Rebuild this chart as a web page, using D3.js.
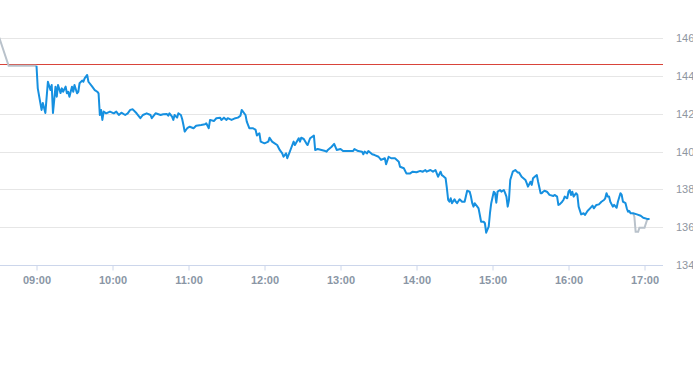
<!DOCTYPE html>
<html>
<head>
<meta charset="utf-8">
<script src="https://cdn.jsdelivr.net/npm/d3@7"></script>
<style>
  body { margin: 0; background: #fff; }
  svg { display: block; font-family: "Liberation Sans", Arial, sans-serif; }
</style>
</head>
<body>
<svg width="693" height="365"></svg>
<script>
// session prices (blue)
var times = ["09:00","09:01","09:04","09:05","09:07","09:09","09:11","09:12","09:13","09:15","09:16","09:17","09:19","09:20","09:21","09:23","09:24","09:25","09:26","09:28","09:29","09:30","09:32","09:33","09:34","09:36","09:37","09:38","09:40","09:41","09:44","09:46","09:48","09:49","09:50","09:51","09:52","09:53","09:55","09:58",
  "10:01","10:03","10:05","10:07","10:10","10:12","10:14","10:16","10:19","10:22","10:24","10:27","10:30","10:31","10:34","10:38","10:40","10:43","10:44","10:45","10:47","10:48","10:49","10:51","10:52","10:54","10:55","10:56","10:57","10:59",
  "11:01","11:04","11:06","11:10","11:13","11:14","11:16","11:17","11:20","11:22","11:25","11:26","11:28","11:30","11:31","11:34","11:37","11:39","11:41","11:42","11:43","11:45","11:46","11:48","11:51","11:53","11:54","11:56","11:57",
  "12:00","12:03","12:04","12:06","12:08","12:10","12:12","12:14","12:15","12:17","12:18","12:20","12:21","12:23","12:24","12:27","12:28","12:29","12:31","12:33","12:34","12:36","12:39","12:40","12:42","12:45","12:48","12:49","12:50","12:53","12:55","12:57",
  "13:00","13:02","13:06","13:10","13:11","13:14","13:17","13:18","13:19","13:21","13:22","13:25","13:27","13:30","13:32","13:35","13:36","13:38","13:40","13:43","13:46","13:47","13:50","13:52","13:55","13:57",
  "14:00","14:03","14:05","14:07","14:08","14:11","14:13","14:15","14:16","14:17","14:19","14:20","14:21","14:23","14:24","14:25","14:26","14:27","14:28","14:30","14:31","14:32","14:34","14:36","14:38","14:40","14:42","14:43","14:44","14:45","14:46","14:48","14:49","14:50","14:51","14:53","14:54","14:55","14:57","14:58","14:59",
  "15:01","15:02","15:03","15:04","15:06","15:07","15:09","15:10","15:11","15:12","15:13","15:14","15:16","15:18","15:20","15:21","15:23","15:26","15:27","15:28","15:30","15:31","15:32","15:34","15:35","15:36","15:38","15:39","15:40","15:41","15:43","15:45","15:48","15:49","15:51","15:52","15:53","15:55","15:56","15:57","15:59",
  "16:00","16:01","16:02","16:03","16:04","16:06","16:07","16:08","16:10","16:12","16:13","16:15","16:17","16:19","16:20","16:22","16:24","16:26","16:28","16:29","16:30","16:31","16:32","16:33","16:35","16:36","16:38","16:39","16:41","16:42","16:43","16:45","16:46","16:47","16:48","16:49","16:51","16:54","16:57","16:59",
  "17:02","17:04"];
var prices = [144.55,143.35,142.21,142.58,142.05,143.70,143.26,143.53,142.05,143.44,142.91,143.53,143.10,143.35,143.17,143.44,143.09,143.17,142.91,143.44,143.17,143.53,143.09,143.17,143.62,143.76,143.70,143.88,144.06,143.70,143.44,143.26,143.17,143.09,141.94,142.21,141.68,142.12,142.03,142.12,
  142.03,142.12,141.94,142.06,141.94,142.03,142.21,142.24,142.03,141.77,141.94,142.03,141.94,141.77,142.03,141.94,141.98,141.99,141.90,142.03,141.85,141.68,141.94,141.80,142.03,141.94,141.73,141.41,141.06,141.24,
  141.32,141.24,141.37,141.41,141.45,141.50,141.24,141.68,141.62,141.77,141.80,141.68,141.80,141.68,141.77,141.68,141.77,141.80,141.90,142.21,142.12,141.94,141.59,141.24,141.24,141.15,140.85,140.97,140.53,
  140.44,140.53,140.74,140.53,140.44,140.35,140.09,139.91,139.73,139.91,139.65,140.00,140.18,140.53,140.35,140.71,140.53,140.74,140.67,140.44,140.35,140.71,140.85,140.09,140.14,140.09,140.03,140.00,140.09,140.26,140.41,140.09,
  140.14,140.03,140.03,140.03,140.14,140.03,140.00,139.86,140.00,139.91,140.03,139.86,139.82,139.73,139.56,139.65,139.33,139.73,139.65,139.65,139.47,139.20,139.12,138.85,138.85,138.94,
  138.91,138.98,138.94,139.03,138.94,139.03,138.94,139.03,138.85,138.67,138.94,138.76,138.71,138.59,138.06,137.44,137.35,137.53,137.27,137.48,137.35,137.27,137.48,137.35,137.35,137.93,137.88,137.62,137.27,137.09,137.27,137.09,137.00,136.65,136.29,136.29,136.21,135.71,136.03,136.74,137.27,
  137.88,137.80,137.30,137.88,137.97,137.88,137.97,137.80,137.62,137.09,137.44,138.50,138.94,139.03,138.89,138.89,138.67,138.50,138.33,138.15,138.41,138.24,138.59,138.71,138.76,138.41,137.80,137.80,137.88,137.93,137.88,137.71,137.65,137.71,137.62,137.18,137.21,137.35,137.44,137.62,137.53,
  137.88,137.97,137.71,137.88,137.62,137.80,137.71,137.09,136.68,136.74,136.65,136.86,137.00,137.14,137.00,137.18,137.21,137.35,137.44,137.53,137.80,137.62,137.62,137.35,137.09,137.18,137.03,137.35,137.80,137.71,137.35,137.27,137.00,136.82,136.86,136.74,136.74,136.68,136.61,136.50,
  136.44,136.44];

// pre-session and after-hours prices (grey)
var preTimes = ["08:30","08:38","09:00"];
var prePrices = [146.15,144.55,144.55];
var postTimes = ["16:51","16:52","16:53","16:55","16:56","17:00","17:02","17:03"];
var postPrices = [136.74,136.56,135.76,135.76,135.97,135.97,136.38,136.44];

var refPrice = 144.64;
var yTicks = [134,136,138,140,142,144,146];
var xTicks = ["09:00","10:00","11:00","12:00","13:00","14:00","15:00","16:00","17:00"];

var svg = d3.select("svg");
var plotRight = 663, plotBottom = 265;
var parse = d3.timeParse("%H:%M");

var x = d3.scaleTime()
  .domain([parse("09:00"), parse("17:00")])
  .range([36.5, 644.5]);
var y = d3.scaleLinear()
  .domain([134, 146])
  .range([plotBottom, 38.3]);

svg.append("defs").append("clipPath").attr("id", "clip")
  .append("rect").attr("x", 0).attr("y", 0).attr("width", plotRight).attr("height", plotBottom);

// horizontal grid
svg.append("g")
  .selectAll("line")
  .data(yTicks.filter(function(d) { return d !== 134; }))
  .enter().append("line")
    .attr("x1", 0).attr("x2", plotRight)
    .attr("y1", function(d) { return Math.round(y(d)) + 0.5; })
    .attr("y2", function(d) { return Math.round(y(d)) + 0.5; })
    .attr("stroke", "#e6e6e6");

// y labels on the right
svg.append("g")
  .selectAll("text")
  .data(yTicks)
  .enter().append("text")
    .attr("x", 676)
    .attr("y", function(d) { return y(d); })
    .attr("dy", "0.35em")
    .attr("fill", "#8e969f")
    .style("font-size", "11px")
    .text(function(d) { return d; });

// x axis
var xAxis = d3.axisBottom(x)
  .tickValues(xTicks.map(parse))
  .tickFormat(d3.timeFormat("%H:%M"))
  .tickSize(5)
  .tickSizeOuter(0);
var gx = svg.append("g")
  .attr("transform", "translate(0," + (plotBottom + 0.5) + ")")
  .call(xAxis);
gx.select(".domain").remove();
gx.insert("line", ":first-child")
  .attr("x1", 0).attr("x2", plotRight)
  .attr("stroke", "#ccd6eb");
gx.selectAll(".tick line").attr("stroke", "#ccd6eb");
gx.selectAll(".tick text")
  .attr("y", 11)
  .attr("fill", "#8a96a5")
  .style("font-size", "11px")
  .style("font-weight", "bold")
  .style("font-family", "'Liberation Sans', Arial, sans-serif");

var line = d3.line()
  .x(function(d) { return x(d[0]); })
  .y(function(d) { return y(d[1]); });

var plot = svg.append("g").attr("clip-path", "url(#clip)");

// reference (previous close)
plot.append("line")
  .attr("x1", 0).attr("x2", plotRight)
  .attr("y1", Math.round(y(refPrice)) + 0.5)
  .attr("y2", Math.round(y(refPrice)) + 0.5)
  .attr("stroke", "#d9443a");

function series(ts, vs) {
  return ts.map(function(t, i) { return [parse(t), vs[i]]; });
}

plot.append("path")
  .datum(series(preTimes, prePrices))
  .attr("d", line)
  .attr("fill", "none")
  .attr("stroke", "#b9c2cb")
  .attr("stroke-width", 2);

plot.append("path")
  .datum(series(postTimes, postPrices))
  .attr("d", line)
  .attr("fill", "none")
  .attr("stroke", "#b9c2cb")
  .attr("stroke-width", 2);

plot.append("path")
  .datum(series(times, prices))
  .attr("d", line)
  .attr("fill", "none")
  .attr("stroke", "#1690e0")
  .attr("stroke-width", 2)
  .attr("stroke-linejoin", "round");
</script>
</body>
</html>
